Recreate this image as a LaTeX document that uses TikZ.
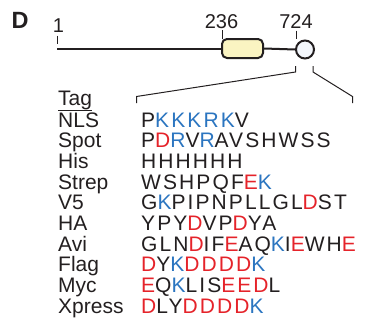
\documentclass[tikz,border=0pt]{standalone}
\usepackage{fontspec}
\setmainfont{Liberation Sans}
\newfontfamily\seqfont{Liberation Sans}[LetterSpace=10]
\usepackage{tikz}
\definecolor{inkdark}{HTML}{231F20}
\definecolor{acid}{HTML}{E5232A}
\definecolor{basic}{HTML}{2B75C0}
\definecolor{domfill}{HTML}{FAF4C2}
\definecolor{tagfill}{HTML}{F3F6FB}
\newcommand{\AC}[1]{\textcolor{acid}{#1}}
\newcommand{\BA}[1]{\textcolor{basic}{#1}}

\begin{document}
\begin{tikzpicture}[x=1pt, y=-1pt,
  lbl/.style={anchor=base west, inner sep=0pt, text=inkdark, font=\fontsize{21}{23}\selectfont},
  seq/.style={lbl, font=\fontsize{21}{23}\selectfont\seqfont},
  num/.style={anchor=base, inner sep=0pt, text=inkdark, font=\fontsize{20}{22}\selectfont},
  prot/.style={draw=inkdark, line width=2pt},
  tick/.style={draw=inkdark, line width=1pt},
  zoomline/.style={draw=inkdark, line width=1pt}]

  \useasboundingbox (0,0) rectangle (365,324);

  \newcommand\Y{20.67}
  \newcommand\Lx{58}
  \newcommand\Sx{141}

  \node[anchor=base west, inner sep=0pt, text=inkdark, font=\fontsize{23.5}{25}\selectfont\bfseries] (panel) at (11.5,28) {D};

  %% protein
  \node[prot, fill=domfill, rounded corners=5pt, minimum width=41pt, minimum height=19pt, inner sep=0pt] (dom) at (242.5,48.5) {};
  \node[prot, fill=tagfill, circle, minimum size=18pt, inner sep=0pt] (tagdot) at (305,49.5) {};
  \coordinate (nterm) at (57,48.5);
  \draw[prot] (nterm) -- (dom.west);
  \draw[prot] (dom.east) -- (tagdot.west);

  \node[num] (one) at (58.5,32) {1};
  \node[num] (first) at (221.5,28) {236};
  \node[num] (last) at (296,28) {724};
  \coordinate (t1a) at (57,35.5);  \coordinate (t1b) at (57,43.5);
  \coordinate (t2a) at (222,30);   \coordinate (t2b) at (222,39);
  \coordinate (t3a) at (296,30.5); \coordinate (t3b) at (296,38.5);
  \draw[tick] (t1a) -- (t1b);
  \draw[tick] (t2a) -- (t2b);
  \draw[tick] (t3a) -- (t3b);

  %% zoom in on the tag
  \coordinate (zl1) at (295.5,66); \coordinate (zl2) at (295.5,72);
  \coordinate (zl3) at (136.5,96.5); \coordinate (zl4) at (136.5,103);
  \coordinate (zr1) at (313,66); \coordinate (zr2) at (313,72);
  \coordinate (zr3) at (352.5,96.5); \coordinate (zr4) at (352.5,103);
  \draw[zoomline] (zl1) -- (zl2) -- (zl3) -- (zl4);
  \draw[zoomline] (zr1) -- (zr2) -- (zr3) -- (zr4);

  %% table
  \node[lbl] (taghead) at (\Lx, 105) {Tag};
  \draw[line width=1.3pt, inkdark] ([yshift=-1pt]taghead.south west) -- ([yshift=-1pt]taghead.south east);

  \node[lbl] (nls) at (\Lx, 127+0*\Y) {NLS};
  \node[seq] (nlsseq) at (\Sx, 127+0*\Y) {P\BA{KKKRK}V};
  \node[lbl] (spot) at (\Lx, 127+1*\Y) {Spot};
  \node[seq] (spotseq) at (\Sx, 127+1*\Y) {P\AC{D}\BA{R}V\BA{R}AVSHWSS};
  \node[lbl] (his) at (\Lx, 127+2*\Y) {His};
  \node[seq] (hisseq) at (\Sx, 127+2*\Y) {HHHHHH};
  \node[lbl] (strep) at (\Lx, 127+3*\Y) {Strep};
  \node[seq] (strepseq) at (\Sx, 127+3*\Y) {WSHPQF\AC{E}\BA{K}};
  \node[lbl] (vfive) at (\Lx, 127+4*\Y) {V5};
  \node[seq] (vfiveseq) at (\Sx, 127+4*\Y) {G\BA{K}PIPNPLLGL\AC{D}ST};
  \node[lbl] (ha) at (\Lx, 127+5*\Y) {HA};
  \node[seq] (haseq) at (\Sx, 127+5*\Y) {YPY\AC{D}VP\AC{D}YA};
  \node[lbl] (avi) at (\Lx, 127+6*\Y) {Avi};
  \node[seq] (aviseq) at (\Sx, 127+6*\Y) {GLN\AC{D}IF\AC{E}AQ\BA{K}I\AC{E}WH\AC{E}};
  \node[lbl] (flag) at (\Lx, 127+7*\Y) {Flag};
  \node[seq] (flagseq) at (\Sx, 127+7*\Y) {\AC{D}Y\BA{K}\AC{DDDD}\BA{K}};
  \node[lbl] (myc) at (\Lx, 127+8*\Y) {Myc};
  \node[seq] (mycseq) at (\Sx, 127+8*\Y) {\AC{E}Q\BA{K}LIS\AC{EED}L};
  \node[lbl] (xpress) at (\Lx, 127+9*\Y) {Xpress};
  \node[seq] (xpressseq) at (\Sx, 127+9*\Y) {\AC{D}LY\AC{DDDD}\BA{K}};
\end{tikzpicture}
\end{document}
